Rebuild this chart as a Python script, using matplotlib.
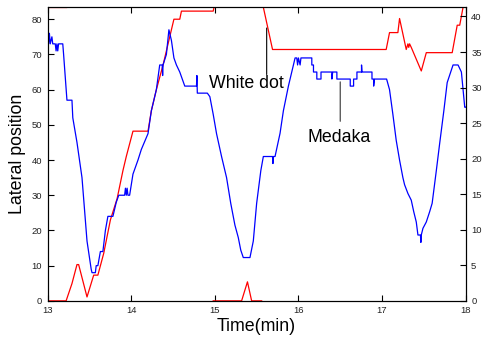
import numpy as np
import matplotlib
matplotlib.use('Agg')
import matplotlib.pyplot as plt

plt.rcParams['font.family'] = ['Liberation Sans', 'DejaVu Sans']

YTOP = 83.4

# Medaka lateral position (blue)
medaka_t = [13.00, 13.01, 13.02, 13.03, 13.05, 13.06, 13.09, 13.10, 13.11, 13.12, 13.13, 13.18,
            13.19, 13.23, 13.29, 13.30, 13.35, 13.41, 13.43, 13.47, 13.52, 13.53, 13.57, 13.58,
            13.60, 13.63, 13.66, 13.69, 13.72, 13.78, 13.82, 13.85, 13.92, 13.93, 13.94, 13.95,
            13.96, 13.98, 14.00, 14.02, 14.05, 14.08, 14.12, 14.20, 14.24, 14.30, 14.34, 14.37,
            14.375, 14.38, 14.42, 14.45, 14.48, 14.51, 14.54, 14.58, 14.61, 14.64, 14.78, 14.785,
            14.79, 14.91, 14.94, 14.98, 15.02, 15.08, 15.14, 15.19, 15.24, 15.28, 15.31, 15.34,
            15.42, 15.46, 15.50, 15.55, 15.58, 15.69, 15.695, 15.70, 15.72, 15.78, 15.82, 15.88,
            15.92, 15.96, 15.98, 15.99, 16.00, 16.02, 16.03, 16.16, 16.16, 16.18, 16.18, 16.22,
            16.22, 16.27, 16.27, 16.40, 16.40, 16.41, 16.46, 16.46, 16.62, 16.62, 16.66, 16.66,
            16.70, 16.70, 16.755, 16.755, 16.76, 16.88, 16.88, 16.90, 16.90, 16.91, 17.055, 17.09,
            17.13, 17.17, 17.21, 17.25, 17.27, 17.31, 17.35, 17.38, 17.41, 17.43, 17.46, 17.465,
            17.47, 17.49, 17.53, 17.57, 17.60, 17.65, 17.69, 17.74, 17.78, 17.85, 17.91, 17.95,
            17.99, 18.00]
medaka_y = [76, 73, 76, 73, 75, 73, 73, 71, 73, 71, 73, 73,
            70, 57, 57, 52, 45, 35, 29, 17, 9, 8, 8, 10,
            10, 14, 14, 20, 24, 24, 28, 30, 30, 32, 30, 32,
            30, 30, 33, 36, 38, 40, 43, 47.5, 54, 60, 67, 67,
            64, 67, 70, 77, 74, 69, 67, 65, 63, 61, 61, 64,
            59, 59, 58, 53, 47.5, 41, 35, 27.7, 21.5, 18, 14.4, 12.3,
            12.3, 17, 27.7, 37, 41, 41, 39, 41, 41, 47.6, 54, 61,
            65, 69, 69, 67, 69, 67, 69, 69, 67, 67, 65, 65,
            63, 63, 65, 65, 63, 65, 65, 63, 63, 61, 61, 63,
            63, 65, 65, 67, 65, 65, 63, 63, 61, 63, 63, 60,
            53, 45.6, 40, 35, 33, 30.5, 28.6, 25.3, 22.4, 18.7, 18.7, 16.6,
            18.7, 20.6, 22.4, 25.3, 27.7, 37, 44.7, 54, 62, 67, 67, 65,
            55, 55]

# White dot position (red), wraps at the top of the axis
dot_t = [13.00, 13.22, 13.29, 13.35, 13.37, 13.47, 13.55, 13.60, 13.67, 13.75, 13.83, 13.90,
         13.94, 14.02, 14.20, 14.24, 14.30, 14.38, 14.44, 14.51, 14.58, 14.60, 14.98, 14.99,
         15.58, 15.69, 17.05, 17.09, 17.19, 17.21, 17.29, 17.31, 17.32, 17.33, 17.35, 17.47,
         17.53, 17.84, 17.90, 17.93, 17.97, 18.00]
dot_y = [0, 0, 4.9, 10.3, 10.3, 1.1, 7.3, 7.3, 13.5, 23, 29, 37,
         41, 48.2, 48.2, 54, 60, 67, 73, 80, 80, 82.3, 82.3, YTOP,
         YTOP, 71.4, 71.4, 76.2, 76.2, 80.2, 71.4, 73, 72, 73, 72, 65.3,
         70.5, 70.5, 78.3, 78.3, YTOP, YTOP]
dot_top_t = [13.00, 13.22]
dot_top_y = [YTOP, YTOP]
dot_low_t = [14.98, 15.32, 15.39, 15.44, 15.56]
dot_low_y = [0, 0, 5.4, 0, 0]

fig = plt.figure(figsize=(4.87, 3.45), dpi=100)
ax = fig.add_axes([0.098, 0.128, 0.858, 0.851])

ax.plot(dot_t, dot_y, color='#ff0000', lw=0.9)
ax.plot(dot_top_t, dot_top_y, color='#ff0000', lw=0.9)
ax.plot(dot_low_t, dot_low_y, color='#ff0000', lw=0.9)
ax.plot(medaka_t, medaka_y, color='#0000ff', lw=0.9)

ax.set_xlim(13, 18)
ax.set_ylim(0, YTOP)
ax.set_xticks([13, 14, 15, 16, 17, 18])
ax.set_yticks(np.arange(0, 81, 10))
ax.tick_params(direction='in', length=4, labelsize=6.8, labelcolor='#222222',
               top=True, right=False, pad=4)
ax.set_xlabel('Time(min)', fontsize=12.8, labelpad=2)
ax.set_ylabel('Lateral position', fontsize=12.8, labelpad=4)

ax2 = ax.twinx()
ax2.set_ylim(0, 41.3)
ax2.set_yticks(np.arange(0, 41, 5))
ax2.tick_params(direction='in', length=4, labelsize=6.8, labelcolor='#222222', pad=4)

# labels with leader lines
ax.text(15.376, 61.6, 'White dot', ha='center', va='center', fontsize=12.8)
ax.annotate('', xy=(15.62, 77.5), xytext=(15.62, 64.3),
            arrowprops=dict(arrowstyle='-', color='black', lw=0.8, shrinkA=0, shrinkB=0))
ax.text(16.49, 46.4, 'Medaka', ha='center', va='center', fontsize=12.8)
ax.annotate('', xy=(16.50, 62.2), xytext=(16.50, 51.0),
            arrowprops=dict(arrowstyle='-', color='#333333', lw=0.8, shrinkA=0, shrinkB=0))

fig.savefig('out.png', dpi=100)
